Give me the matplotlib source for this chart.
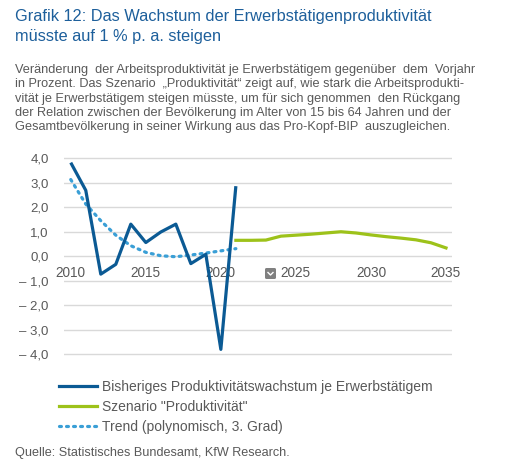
import matplotlib
matplotlib.use("Agg")
import matplotlib.pyplot as plt
from matplotlib.patches import FancyBboxPatch
from matplotlib.lines import Line2D

plt.rcParams["font.family"] = ["Liberation Sans", "DejaVu Sans"]

# %% data
years_hist = list(range(2010, 2022))
growth_hist = [3.82, 2.69, -0.73, -0.33, 1.31, 0.56, 0.99, 1.31, -0.30, 0.08, -3.80, 2.86]

years_trend = list(range(2010, 2022))
trend = [3.13, 2.13, 1.45, 0.86, 0.43, 0.16, 0.02, -0.02, 0.05, 0.13, 0.22, 0.31]

years_scen = list(range(2021, 2036))
scenario = [0.65, 0.65, 0.66, 0.82, 0.86, 0.90, 0.95, 1.00, 0.95, 0.87, 0.80, 0.74, 0.67, 0.55, 0.34]

y_ticks = [4, 3, 2, 1, 0, -1, -2, -3, -4]
x_ticks = [2010, 2015, 2020, 2025, 2030, 2035]

title = "Grafik 12: Das Wachstum der Erwerbstätigenproduktivität\nmüsste auf 1 % p. a. steigen"
subtitle_lines = [
    "Veränderung  der Arbeitsproduktivität je Erwerbstätigem gegenüber  dem  Vorjahr",
    "in Prozent. Das Szenario  „Produktivität“ zeigt auf, wie stark die Arbeitsprodukti-",
    "vität je Erwerbstätigem steigen müsste, um für sich genommen  den Rückgang",
    "der Relation zwischen der Bevölkerung im Alter von 15 bis 64 Jahren und der",
    "Gesamtbevölkerung in seiner Wirkung aus das Pro-Kopf-BIP  auszugleichen.",
]
labels = [
    "Bisheriges Produktivitätswachstum je Erwerbstätigem",
    'Szenario "Produktivität"',
    "Trend (polynomisch, 3. Grad)",
]
source = "Quelle: Statistisches Bundesamt, KfW Research."

# %% colours
DARK_BLUE = "#0b5a94"
GREEN = "#9dc21a"
LIGHT_BLUE = "#3a9fd6"
TITLE_BLUE = "#1d5f9b"
GREY_TEXT = "#595959"
GRID = "#d9d9d9"

W, H = 519, 465
fig = plt.figure(figsize=(W / 100, H / 100), dpi=100)

# axes placed by pixel box
left, right, top, bottom = 64, 452, 157, 355.5
ax = fig.add_axes([left / W, 1 - bottom / H, (right - left) / W, (bottom - top) / H])

ax.plot(years_hist, growth_hist, color=DARK_BLUE, lw=2.3, solid_capstyle="butt", zorder=3)
ax.plot(years_scen, scenario, color=GREEN, lw=2.3, zorder=3)
ax.plot(years_trend, trend, color=LIGHT_BLUE, lw=2.3, linestyle=(0, (0.6, 1.6)),
        dash_capstyle="round", zorder=2)

ax.set_xlim(2009.55, 2035.4)
ax.set_ylim(-4.05, 4.05)
ax.set_yticks(y_ticks)
ax.set_yticklabels([f"{v:.1f}".replace(".", ",").replace("-", "\u2013 ") for v in y_ticks])
ax.set_xticks(x_ticks)
ax.set_xticklabels([str(x) for x in x_ticks])
for s in ax.spines.values():
    s.set_visible(False)
ax.spines["bottom"].set_position(("data", 0))
ax.tick_params(axis="x", length=0, pad=7, labelsize=9.8, colors=GREY_TEXT)
ax.tick_params(axis="y", length=0, pad=11, labelsize=9.5, colors=GREY_TEXT)
ax.grid(axis="y", color=GRID, lw=1)
ax.set_axisbelow(True)

# small grey dropdown marker next to 2025
box = FancyBboxPatch((265 / W, 1 - 279 / H), 11 / W, 11 / H, boxstyle="round,pad=0,rounding_size=0.003",
                     transform=fig.transFigure, facecolor="#808080", edgecolor="none")
fig.patches.append(box)
fig.lines.append(Line2D([268 / W, 270.5 / W, 273 / W], [1 - 272.5 / H, 1 - 275 / H, 1 - 272.5 / H],
                        transform=fig.transFigure, color="white", lw=1))

# texts
fig.text(15 / W, 1 - 9 / H, title, color=TITLE_BLUE, fontsize=11.8, ha="left", va="top",
         linespacing=1.45)
for i, line in enumerate(subtitle_lines):
    fig.text(15 / W, 1 - (70 + i * 14.3) / H, line, color=GREY_TEXT, fontsize=9.2,
             ha="left", va="center")

handles = [
    Line2D([], [], color=DARK_BLUE, lw=2.3),
    Line2D([], [], color=GREEN, lw=2.3),
    Line2D([], [], color=LIGHT_BLUE, lw=2.3, linestyle=(0, (0.6, 1.6)), dash_capstyle="round"),
]
fig.legend(handles, labels, loc="upper left", bbox_to_anchor=(46 / W, 1 - 367 / H),
           frameon=False, fontsize=10, handlelength=2.8, handletextpad=0.35,
           labelspacing=0.45, labelcolor=GREY_TEXT)

fig.text(15 / W, 1 - 453 / H, source, color=GREY_TEXT, fontsize=9.1, ha="left", va="center")

fig.savefig("out.png", dpi=100)
